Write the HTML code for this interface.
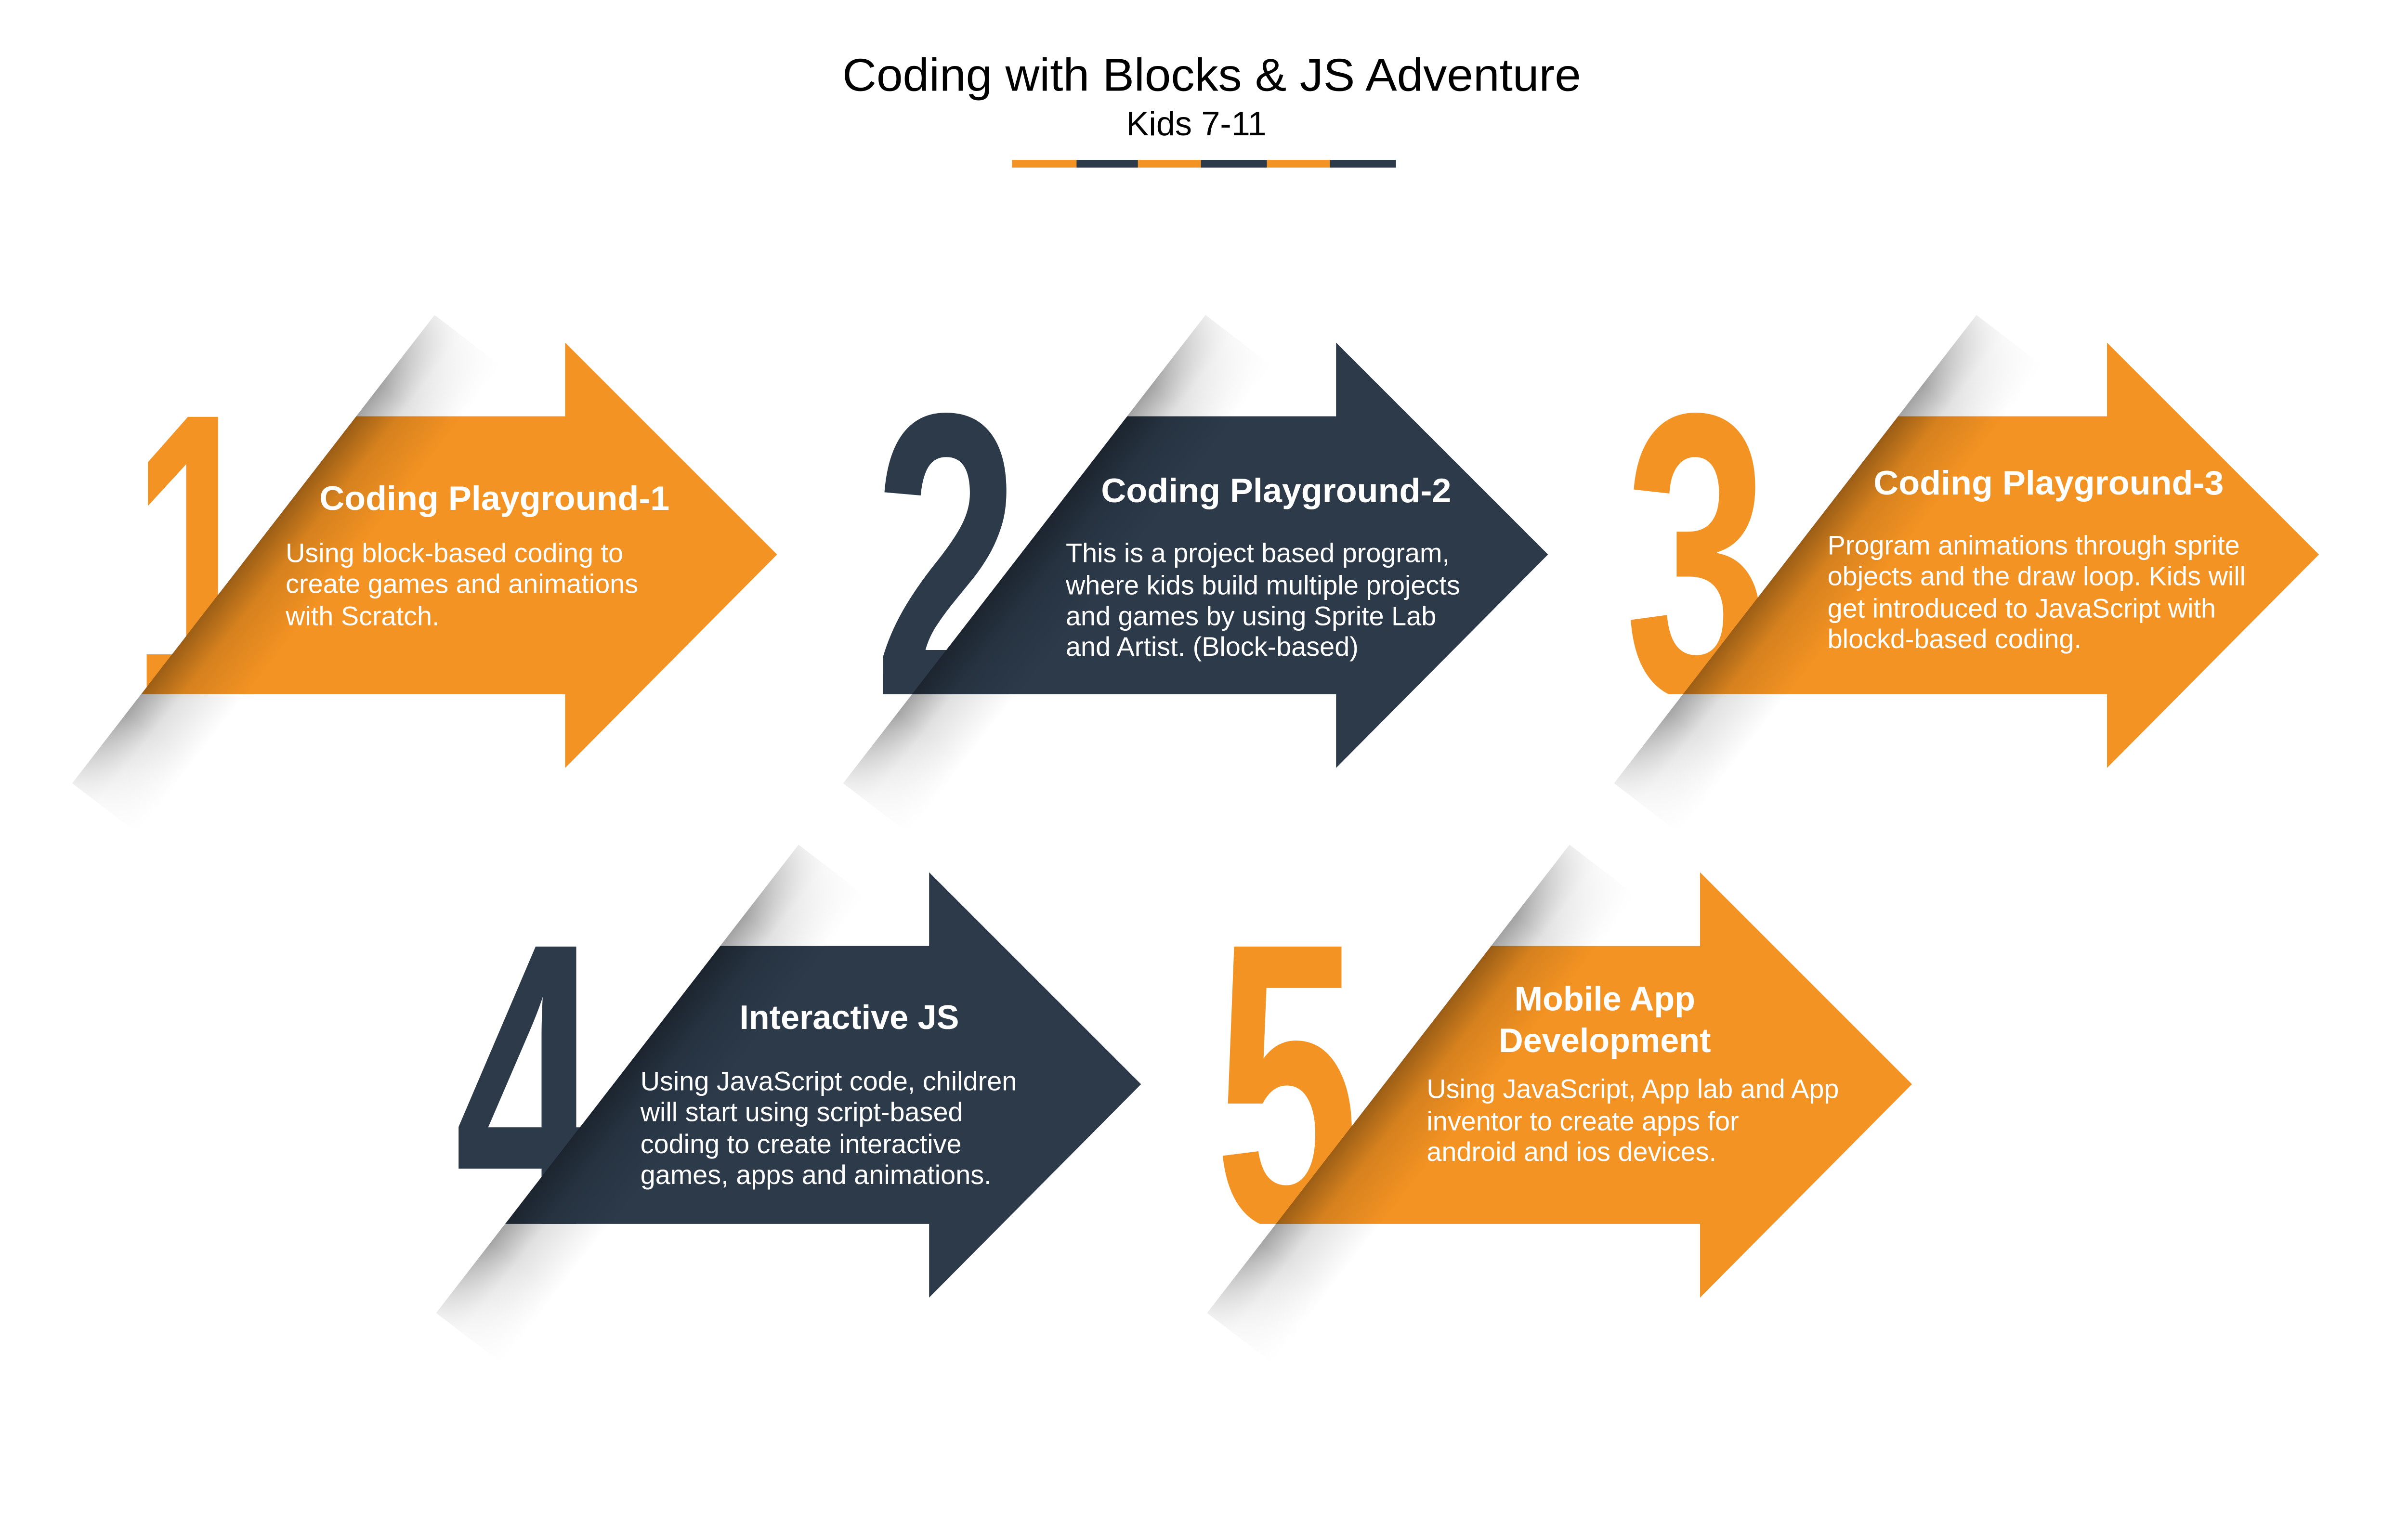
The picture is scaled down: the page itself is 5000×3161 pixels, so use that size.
<!DOCTYPE html>
<html><head><meta charset="utf-8"><style>
html,body{margin:0;padding:0;background:#fff}
svg{display:block}
.t{font-family:"Liberation Sans",sans-serif;fill:#fff}
.h{font-weight:bold;font-size:22px}
.b{font-size:17.5px}
.n{font-family:"Liberation Sans Narrow","Liberation Sans",sans-serif;font-weight:bold;font-size:264px}
</style></head><body>
<svg width="5000" height="3161" viewBox="0 0 1568 991" xmlns="http://www.w3.org/2000/svg">
<defs>
<linearGradient id="sh" gradientUnits="userSpaceOnUse" x1="162" y1="361.5" x2="205" y2="395">
<stop offset="0" stop-color="#000" stop-opacity="0.36"/>
<stop offset="0.4" stop-color="#000" stop-opacity="0.12"/>
<stop offset="1" stop-color="#000" stop-opacity="0"/>
</linearGradient>
<linearGradient id="fade" gradientUnits="userSpaceOnUse" x1="283" y1="205" x2="47" y2="510">
<stop offset="0" stop-color="#fff" stop-opacity="0.2"/>
<stop offset="0.15" stop-color="#fff" stop-opacity="1"/>
<stop offset="0.85" stop-color="#fff" stop-opacity="1"/>
<stop offset="1" stop-color="#fff" stop-opacity="0.2"/>
</linearGradient>
<mask id="m" maskUnits="userSpaceOnUse" x="0" y="150" width="400" height="450"><rect x="0" y="150" width="400" height="450" fill="url(#fade)"/></mask>
<clipPath id="c1"><rect x="0" y="0" width="1568" height="452"/></clipPath>
<clipPath id="c2"><rect x="0" y="500" width="1568" height="297"/></clipPath>
<g id="band"><polygon points="283,205 47,510 94,546 330,241" fill="url(#sh)" mask="url(#m)"/></g>
<polygon id="arr" points="92,452 232,271 368,271 368,223 506,361 368,500 368,452"/>
</defs>

<text x="789" y="59" text-anchor="middle" font-family="Liberation Sans, sans-serif" font-size="30" fill="#000" textLength="481" lengthAdjust="spacingAndGlyphs">Coding with Blocks &amp; JS Adventure</text>
<text x="779" y="88" text-anchor="middle" font-family="Liberation Sans, sans-serif" font-size="22" fill="#000">Kids 7-11</text>
<rect x="659" y="104" width="42" height="5" fill="#F39323"/>
<rect x="701" y="104" width="40" height="5" fill="#2C3A4A"/>
<rect x="741" y="104" width="41" height="5" fill="#F39323"/>
<rect x="782" y="104" width="43" height="5" fill="#2C3A4A"/>
<rect x="825" y="104" width="41" height="5" fill="#F39323"/>
<rect x="866" y="104" width="43" height="5" fill="#2C3A4A"/>

<g clip-path="url(#c1)">
<text class="n" x="86" y="453" fill="#F39323" textLength="84" lengthAdjust="spacingAndGlyphs">1</text>
<text class="n" x="569" y="453" fill="#2C3A4A" textLength="95" lengthAdjust="spacingAndGlyphs">2</text>
<text class="n" x="1058" y="453" fill="#F39323" textLength="94" lengthAdjust="spacingAndGlyphs">3</text>
</g>
<g clip-path="url(#c2)">
<text class="n" x="296" y="798" fill="#2C3A4A" textLength="96" lengthAdjust="spacingAndGlyphs">4</text>
<text class="n" x="791" y="798" fill="#F39323" textLength="94" lengthAdjust="spacingAndGlyphs">5</text>
</g>

<!-- 1 -->
<use href="#arr" fill="#F39323"/>
<use href="#band"/>
<text class="t h" x="208" y="332" textLength="228" lengthAdjust="spacingAndGlyphs">Coding Playground-1</text>
<text class="t b" x="186" y="366">Using block-based coding to</text>
<text class="t b" x="186" y="386">create games and animations</text>
<text class="t b" x="186" y="407">with Scratch.</text>

<!-- 2 -->
<g transform="translate(502,0)"><use href="#arr" fill="#2C3A4A"/><use href="#band"/></g>
<text class="t h" x="717" y="327" textLength="228" lengthAdjust="spacingAndGlyphs">Coding Playground-2</text>
<text class="t b" x="694" y="366">This is a project based program,</text>
<text class="t b" x="694" y="387">where kids build multiple projects</text>
<text class="t b" x="694" y="407">and games by using Sprite Lab</text>
<text class="t b" x="694" y="427">and Artist. (Block-based)</text>

<!-- 3 -->
<g transform="translate(1004,0)"><use href="#arr" fill="#F39323"/><use href="#band"/></g>
<text class="t h" x="1220" y="322" textLength="228" lengthAdjust="spacingAndGlyphs">Coding Playground-3</text>
<text class="t b" x="1190" y="361">Program animations through sprite</text>
<text class="t b" x="1190" y="381">objects and the draw loop. Kids will</text>
<text class="t b" x="1190" y="402">get introduced to JavaScript with</text>
<text class="t b" x="1190" y="422">blockd-based coding.</text>

<!-- 4 -->
<g transform="translate(237,345)"><use href="#arr" fill="#2C3A4A"/><use href="#band"/></g>
<text class="t h" x="553" y="670" text-anchor="middle">Interactive JS</text>
<text class="t b" x="417" y="710">Using JavaScript code, children</text>
<text class="t b" x="417" y="730">will start using script-based</text>
<text class="t b" x="417" y="751">coding to create interactive</text>
<text class="t b" x="417" y="771">games, apps and animations.</text>

<!-- 5 -->
<g transform="translate(739,345)"><use href="#arr" fill="#F39323"/><use href="#band"/></g>
<text class="t h" x="1045" y="658" text-anchor="middle">Mobile App</text>
<text class="t h" x="1045" y="685" text-anchor="middle">Development</text>
<text class="t b" x="929" y="715">Using JavaScript, App lab and App</text>
<text class="t b" x="929" y="736">inventor to create apps for</text>
<text class="t b" x="929" y="756">android and ios devices.</text>
</svg>
</body></html>
